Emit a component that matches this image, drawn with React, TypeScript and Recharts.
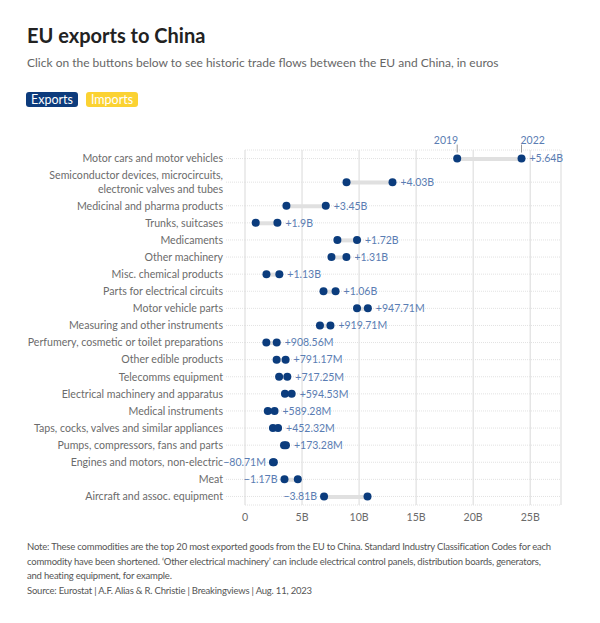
import React from 'react';
import {
  ComposedChart,
  Bar,
  Line,
  XAxis,
  YAxis,
  CartesianGrid,
  LabelList,
} from 'recharts';

// values in billions of euros
const categories = [
  'Motor cars and motor vehicles',
  'Semiconductor devices, microcircuits,\nelectronic valves and tubes',
  'Medicinal and pharma products',
  'Trunks, suitcases',
  'Medicaments',
  'Other machinery',
  'Misc. chemical products',
  'Parts for electrical circuits',
  'Motor vehicle parts',
  'Measuring and other instruments',
  'Perfumery, cosmetic or toilet preparations',
  'Other edible products',
  'Telecomms equipment',
  'Electrical machinery and apparatus',
  'Medical instruments',
  'Taps, cocks, valves and similar appliances',
  'Pumps, compressors, fans and parts',
  'Engines and motors, non-electric',
  'Meat',
  'Aircraft and assoc. equipment',
];

const exports2019 = [
  18.6, 8.9, 3.63, 0.94, 8.1, 7.58, 1.88, 6.88, 9.82, 6.57,
  1.87, 2.77, 2.99, 3.5, 2.0, 2.45, 3.42, 2.53, 4.63, 10.74,
];

const exports2022 = [
  24.24, 12.93, 7.08, 2.84, 9.82, 8.89, 3.01, 7.94, 10.77, 7.49,
  2.78, 3.56, 3.71, 4.09, 2.59, 2.9, 3.59, 2.45, 3.46, 6.93,
];

const changes = [
  5.64, 4.03, 3.45, 1.9, 1.72, 1.31, 1.13, 1.06, 0.94771, 0.91971,
  0.90856, 0.79117, 0.71725, 0.59453, 0.58928, 0.45232, 0.17328, -0.08071, -1.17, -3.81,
];

const xTicks = [0, 5, 10, 15, 20, 25];

const FONT = 'Lato, "Noto Sans", sans-serif';
const DOT = '#0b3c7d';
const LABEL = '#5a7db3';
const AXIS_TEXT = '#6b6b6b';

// rows with a wrapped label get a bit more room, like the original
const lineCounts = categories.map((c) => c.split('\n').length);
const rowPos: number[] = [];
lineCounts.forEach((n, i) => {
  if (i === 0) rowPos.push(0);
  else rowPos.push(rowPos[i - 1] + 1 + 0.38 * (n - 1 + lineCounts[i - 1] - 1));
});

const data = categories.map((name, i) => ({
  name,
  pos: rowPos[i],
  y2019: exports2019[i],
  y2022: exports2022[i],
  change: changes[i],
}));

function formatChange(v: number) {
  const sign = v < 0 ? '\u2212' : '+';
  const a = Math.abs(v);
  if (a >= 1) return sign + parseFloat(a.toFixed(2)) + 'B';
  return sign + parseFloat((a * 1000).toFixed(2)) + 'M';
}

function CategoryTick(props: any) {
  const { x, y, payload } = props;
  const idx = rowPos.findIndex((p) => Math.abs(p - payload.value) < 1e-6);
  if (idx < 0) return null;
  const lines = categories[idx].split('\n');
  const lh = 14.5;
  const start = -((lines.length - 1) * lh) / 2;
  return (
    <text x={x} y={y} textAnchor="end" fill={AXIS_TEXT} fontSize={10.6} fontFamily={FONT}>
      {lines.map((l, i) => (
        <tspan key={i} x={x} dy={i === 0 ? start + 3.8 : lh}>
          {l}
        </tspan>
      ))}
    </text>
  );
}

function ChangeLabel(props: any) {
  const { x, y, index } = props;
  const v = data[index].change;
  const pos = v >= 0;
  return (
    <text
      x={pos ? x + 8 : x - 7}
      y={y + 3.8}
      textAnchor={pos ? 'start' : 'end'}
      fill={LABEL}
      fontSize={10.5}
      fontFamily={FONT}
    >
      {formatChange(v)}
    </text>
  );
}

function yearLabel(year: string, side: 'left' | 'right') {
  return (props: any) => {
    const { x, y, index } = props;
    if (index !== 0) return null;
    return (
      <g>
        <line x1={x} x2={x} y1={y - 6} y2={y - 14} stroke="#9a9a9a" strokeWidth={1} />
        <text
          x={side === 'left' ? x + 1 : x - 1}
          y={y - 15}
          textAnchor={side === 'left' ? 'end' : 'start'}
          fill={LABEL}
          fontSize={10.5}
          fontFamily={FONT}
        >
          {year}
        </text>
      </g>
    );
  };
}

export default function App() {
  const last = rowPos[rowPos.length - 1];
  return (
    <div
      style={{
        position: 'relative',
        width: 600,
        height: 623,
        margin: -8,
        background: '#f1f1f1',
        fontFamily: FONT,
        overflow: 'hidden',
      }}
    >
      <div
        style={{
          position: 'absolute',
          left: 0,
          top: 0,
          width: 593,
          height: 619,
          background: '#fff',
          borderLeft: '1px solid #ececec',
          boxSizing: 'border-box',
        }}
      >
        <div
          style={{
            position: 'absolute',
            left: 26,
            top: 23,
            fontSize: 20,
            lineHeight: '24px',
            fontWeight: 700,
            color: '#222',
            whiteSpace: 'nowrap',
          }}
        >
          EU exports to China
        </div>
        <div
          style={{
            position: 'absolute',
            left: 26,
            top: 55,
            fontSize: 12,
            lineHeight: '16px',
            color: '#666',
            whiteSpace: 'nowrap',
          }}
        >
          Click on the buttons below to see historic trade flows between the EU and China, in euros
        </div>
        <div
          style={{
            position: 'absolute',
            left: 25,
            top: 92,
            width: 52,
            height: 15,
            lineHeight: '15px',
            borderRadius: 3,
            background: '#0d3b7c',
            color: '#fff',
            fontSize: 12.5,
            textAlign: 'center',
          }}
        >
          Exports
        </div>
        <div
          style={{
            position: 'absolute',
            left: 85,
            top: 92,
            width: 52,
            height: 15,
            lineHeight: '15px',
            borderRadius: 3,
            background: '#fbd232',
            color: '#fff',
            fontSize: 12.5,
            textAlign: 'center',
          }}
        >
          Imports
        </div>

        <div style={{ position: 'absolute', left: 0, top: 120 }}>
          <ComposedChart
            width={593}
            height={410}
            data={data}
            layout="vertical"
            margin={{ top: 30, right: 33, bottom: 5, left: 0 }}
          >
            <CartesianGrid horizontal={false} stroke="#d9d9d9" />
            <CartesianGrid vertical={false} stroke="#e2e2e2" strokeDasharray="1 1" />
            <XAxis
              type="number"
              domain={[0, 27.7]}
              allowDataOverflow
              ticks={xTicks}
              tickFormatter={(v: number) => (v === 0 ? '0' : v + 'B')}
              axisLine={false}
              tickLine={false}
              height={20}
              tick={{ fill: AXIS_TEXT, fontSize: 10.6, fontFamily: FONT }}
            />
            <YAxis
              type="number"
              dataKey="pos"
              domain={[-0.5, last + 0.5]}
              allowDataOverflow
              ticks={rowPos}
              interval={0}
              width={244}
              axisLine={false}
              tickSize={19}
              tickMargin={3}
              tickLine={{ stroke: '#e2e2e2', strokeDasharray: '1 1' }}
              tick={<CategoryTick />}
            />
            <Bar
              dataKey={(d: any) => [Math.min(d.y2019, d.y2022), Math.max(d.y2019, d.y2022)]}
              barSize={4}
              fill="#e0e0e0"
              isAnimationActive={false}
            />
            <Line
              dataKey="y2019"
              stroke="none"
              dot={{ r: 4, fill: DOT, stroke: 'none' }}
              activeDot={false}
              isAnimationActive={false}
            >
              <LabelList dataKey="y2019" content={yearLabel('2019', 'left')} />
            </Line>
            <Line
              dataKey="y2022"
              stroke="none"
              dot={{ r: 4, fill: DOT, stroke: 'none' }}
              activeDot={false}
              isAnimationActive={false}
            >
              <LabelList dataKey="y2022" content={yearLabel('2022', 'right')} />
              <LabelList dataKey="y2022" content={ChangeLabel} />
            </Line>
          </ComposedChart>
        </div>

        <div
          style={{
            position: 'absolute',
            left: 26,
            top: 540,
            fontSize: 9.5,
            letterSpacing: -0.2,
            lineHeight: '14.7px',
            color: '#555',
            whiteSpace: 'nowrap',
          }}
        >
          Note: These commodities are the top 20 most exported goods from the EU to China. Standard Industry Classification Codes for each
          <br />
          commodity have been shortened. ‘Other electrical machinery’ can include electrical control panels, distribution boards, generators,
          <br />
          and heating equipment, for example.
          <br />
          Source: Eurostat | A.F. Alias &amp; R. Christie | Breakingviews | Aug. 11, 2023
        </div>
      </div>
    </div>
  );
}
